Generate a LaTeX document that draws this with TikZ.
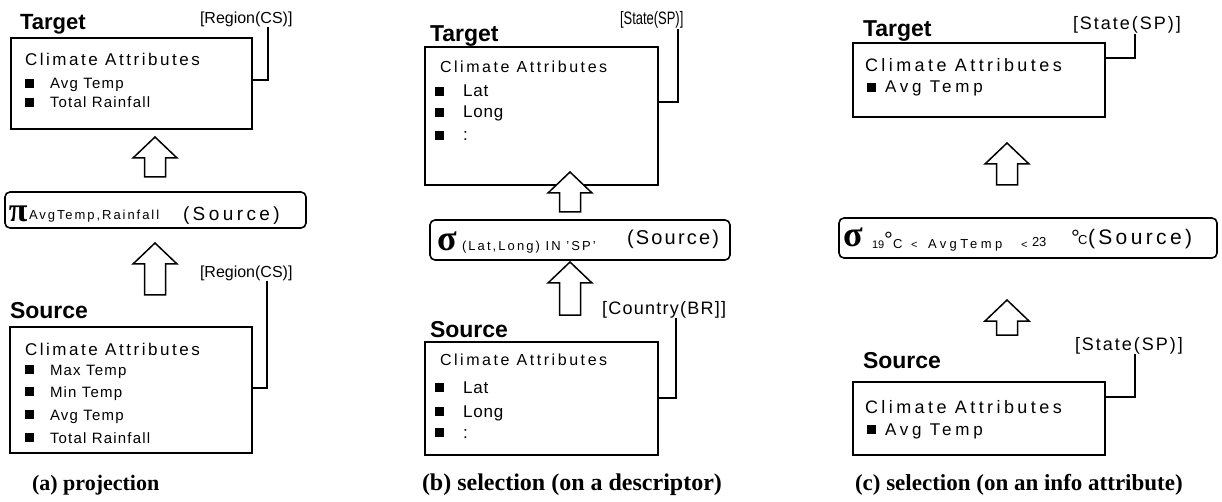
\documentclass[tikz,border=0pt]{standalone}
\usepackage{fontspec}
\usepackage{graphicx}
\setmainfont{Liberation Sans}
\newfontfamily\timesf{Liberation Serif}
\usetikzlibrary{calc}
\newcommand\LSp[3]{{\fontsize{#1}{#1}\selectfont\addfontfeature{LetterSpace=#2}#3}}
\newcommand\BoldS[2]{{\fontsize{#1}{#1}\selectfont\bfseries #2}}
\newcommand\SerB[2]{{\timesf\fontsize{#1}{#1}\selectfont\bfseries #2}}
\newcommand\Bul[2]{\fill ({#1},{#2-10}) rectangle ({#1+8.5},{#2-1});}
\newcommand\Barr[2]{\draw[barrow] (#1) -- ($(#1)+(22,21)$) -- ($(#1)+(10.5,21)$) -- ($(#2)+(10.5,0)$) -- ($(#2)+(-10.5,0)$) -- ($(#1)+(-10.5,21)$) -- ($(#1)+(-22,21)$) -- cycle;}
\tikzset{
  box/.style={draw, line width=1.6pt, inner sep=0pt},
  opbox/.style={draw, line width=1.6pt, rounded corners=5pt, inner sep=0pt},
  txt/.style={anchor=base west, inner sep=0pt, outer sep=0pt},
  brk/.style={line width=1.5pt},
  barrow/.style={draw, line width=1.5pt, line join=miter, fill=white}
}
\begin{document}
\begin{tikzpicture}[x=1pt,y=-1pt]
\useasboundingbox[fill=white] (0,0) rectangle (1222,502);

% ================= Panel (a) =================
\node[txt] (tA) at (20,30) {\BoldS{22}{Target}};
\node[txt] (lA1) at (200,24) {\LSp{16}{0}{[Region(CS)]}};
\node[box, minimum width=241, minimum height=91] (ta) at (131.5,83.5) {};
\node[txt] (ha1) at (25,66) {\LSp{17}{15}{Climate Attributes}};
\node[txt] (ia11) at (50,89) {\LSp{15}{8}{Avg Temp}}; \Bul{25}{89}
\node[txt] (ia12) at (50,108) {\LSp{15}{8}{Total Rainfall}}; \Bul{25}{108}
\coordinate (ka1) at (268,80);
\draw[brk] (ka1 -| ta.east) -- (ka1) -- (ka1 |- lA1.south);

\coordinate (aa1t) at (155,137); \coordinate (aa1b) at (155,177);
\Barr{aa1t}{aa1b}

\node[opbox, minimum width=301, minimum height=36] (opa) at (155.5,210) {};
\node[txt] (pia) at (9,222) {\SerB{34}{π}};
\node[txt] (suba) at (29,220) {\LSp{13}{15}{AvgTemp,Rainfall}};
\node[txt] (srca) at (183,221) {\LSp{19}{18}{(Source)}};

\coordinate (aa2t) at (155,243); \coordinate (aa2b) at (155,295);
\Barr{aa2t}{aa2b}

\node[txt] (sA) at (10,318) {\BoldS{23}{Source}};
\node[txt] (lA2) at (200,278) {\LSp{16}{0}{[Region(CS)]}};
\node[box, minimum width=242, minimum height=126] (sa) at (131,390) {};
\node[txt] (ha2) at (25,355) {\LSp{17}{15}{Climate Attributes}};
\node[txt] (ia21) at (50,375) {\LSp{15}{8}{Max Temp}}; \Bul{25}{375}
\node[txt] (ia22) at (50,397) {\LSp{15}{8}{Min Temp}}; \Bul{25}{397}
\node[txt] (ia23) at (50,420) {\LSp{15}{8}{Avg Temp}}; \Bul{25}{420}
\node[txt] (ia24) at (50,443) {\LSp{15}{8}{Total Rainfall}}; \Bul{25}{443}
\coordinate (ka2) at (267,388);
\draw[brk] (ka2 -| sa.east) -- (ka2) -- (ka2 |- lA2.south);

\node[txt] (capa) at (32,490) {\SerB{22}{(a) projection}};

% ================= Panel (b) =================
\node[txt] (tB) at (430,42) {\BoldS{23}{Target}};
\node[txt] (lB1) at (620,25) {\scalebox{0.72}[1]{\LSp{18}{0}{[State(SP)]}}};
\node[box, minimum width=233, minimum height=138] (tb) at (541.5,116) {};
\node[txt] (hb1) at (440,73) {\LSp{16}{16}{Climate Attributes}};
\node[txt] (ib11) at (463,97) {\LSp{17}{5}{Lat}}; \Bul{435}{97}
\node[txt] (ib12) at (463,118) {\LSp{17}{5}{Long}}; \Bul{435}{118}
\node[txt] (ib13) at (463,141) {\LSp{17}{5}{:}}; \Bul{435}{141}
\coordinate (kb1) at (678,102);
\draw[brk] (kb1 -| tb.east) -- (kb1) -- (kb1 |- lB1.south);

\coordinate (ab1t) at (570,172); \coordinate (ab1b) at (570,212);
\Barr{ab1t}{ab1b}

\node[opbox, minimum width=300, minimum height=40] (opb) at (580,240) {};
\node[txt] (sgb) at (437,251) {\SerB{36}{σ}};
\node[txt] (subb) at (462,251) {\LSp{13}{16}{(Lat,Long) IN 'SP'}};
\node[txt] (srcb) at (627,245) {\LSp{20}{11}{(Source)}};

\coordinate (ab2t) at (570,262); \coordinate (ab2b) at (570,315);
\Barr{ab2t}{ab2b}

\node[txt] (sB) at (430,337) {\BoldS{23}{Source}};
\node[txt] (lB2) at (602,314) {\LSp{18}{7}{[Country(BR]]}};
\node[box, minimum width=233, minimum height=113] (sb) at (541.5,398.5) {};
\node[txt] (hb2) at (440,365) {\LSp{16}{16}{Climate Attributes}};
\node[txt] (ib21) at (463,393) {\LSp{17}{5}{Lat}}; \Bul{435}{393}
\node[txt] (ib22) at (463,417) {\LSp{17}{5}{Long}}; \Bul{435}{417}
\node[txt] (ib23) at (463,438) {\LSp{17}{5}{:}}; \Bul{435}{438}
\coordinate (kb2) at (676,398);
\draw[brk] (kb2 -| sb.east) -- (kb2) -- (kb2 |- lB2.south);

\node[txt] (capb) at (422,490) {\SerB{24}{(b) selection (on a descriptor)}};

% ================= Panel (c) =================
\node[txt] (tC) at (863,37) {\BoldS{23}{Target}};
\node[txt] (lC1) at (1073,30) {\LSp{18}{11}{[State(SP)]}};
\node[box, minimum width=252, minimum height=74] (tc) at (979,80) {};
\node[txt] (hc1) at (865,72) {\LSp{18}{19}{Climate Attributes}};
\node[txt] (ic11) at (885,93) {\LSp{17}{22}{Avg Temp}}; \Bul{867}{93}
\coordinate (kc1) at (1135,58);
\draw[brk] (kc1 -| tc.east) -- (kc1) -- (kc1 |- lC1.south);

\coordinate (ac1t) at (1007,143); \coordinate (ac1b) at (1007,185);
\Barr{ac1t}{ac1b}

\node[opbox, minimum width=378, minimum height=40] (opc) at (1028,238) {};
\node[txt] (sgc) at (843,247) {\SerB{36}{σ}};
\node[txt] (c19) at (872,249) {\LSp{11}{0}{19}};
\node[txt] (cdeg1) at (884,248) {\LSp{22}{0}{°}};
\node[txt] (cC1) at (893,249) {\LSp{13}{0}{C}};
\node[txt] (clt1) at (911,249) {\LSp{11}{0}{<}};
\node[txt] (cavg) at (928,249) {\LSp{13}{26}{AvgTemp}};
\node[txt] (clt2) at (1021,249) {\LSp{11}{0}{<}};
\node[txt] (c23) at (1032,247) {\LSp{13}{0}{23}};
\node[txt] (cdeg2) at (1071,246) {\LSp{22}{0}{°}};
\node[txt] (cC2) at (1078,245) {\LSp{13}{0}{C}};
\node[txt] (srcc) at (1088,245) {\LSp{21}{16}{(Source)}};

\coordinate (ac2t) at (1007,300); \coordinate (ac2b) at (1007,335);
\Barr{ac2t}{ac2b}

\node[txt] (sC) at (863,368) {\BoldS{23}{Source}};
\node[txt] (lC2) at (1075,350) {\LSp{18}{11}{[State(SP)]}};
\node[box, minimum width=252, minimum height=73] (sc) at (979,418.5) {};
\node[txt] (hc2) at (865,413) {\LSp{18}{19}{Climate Attributes}};
\node[txt] (ic21) at (885,435) {\LSp{17}{22}{Avg Temp}}; \Bul{867}{435}
\coordinate (kc2) at (1135,397);
\draw[brk] (kc2 -| sc.east) -- (kc2) -- (kc2 |- lC2.south);

\node[txt] (capc) at (855,490) {\SerB{23}{(c) selection (on an info attribute)}};
\end{tikzpicture}
\end{document}
